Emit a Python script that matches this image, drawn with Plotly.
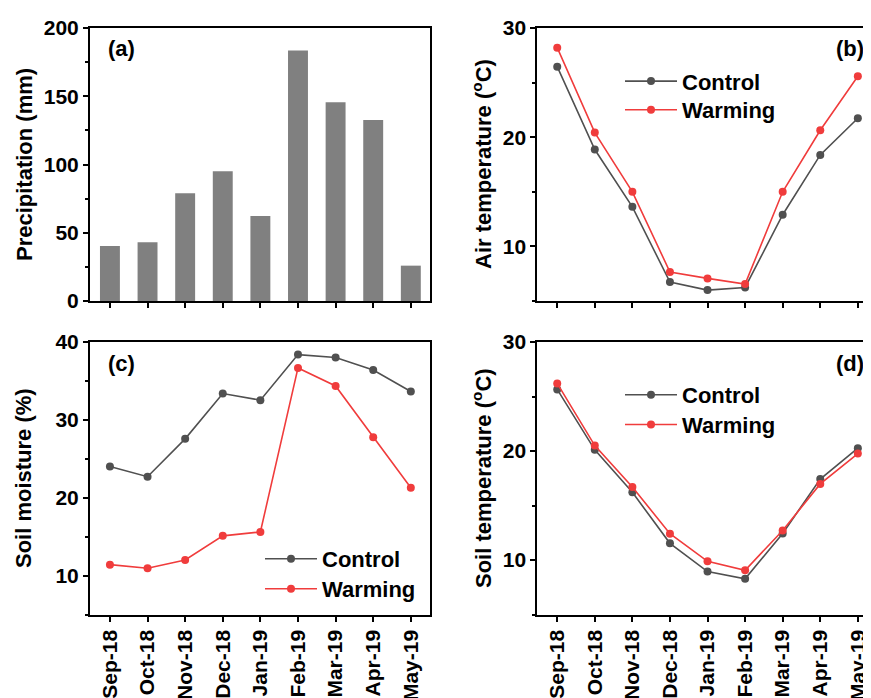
import plotly.graph_objects as go

months = ["Sep-18", "Oct-18", "Nov-18", "Dec-18", "Jan-19", "Feb-19", "Mar-19", "Apr-19", "May-19"]
precip = [40.3, 43.0, 79.0, 95.0, 62.3, 183.6, 145.6, 132.6, 25.9]
air_control = [26.46, 18.87, 13.62, 6.73, 6.0, 6.24, 12.9, 18.38, 21.74]
air_warming = [28.2, 20.42, 15.0, 7.65, 7.07, 6.55, 15.0, 20.64, 25.58]
sm_control = [24.0, 22.7, 27.56, 33.38, 32.53, 38.38, 38.0, 36.41, 33.64]
sm_warming = [11.4, 10.94, 12.0, 15.1, 15.6, 36.67, 34.36, 27.78, 21.28]
st_control = [25.65, 20.11, 16.21, 11.53, 8.94, 8.27, 12.44, 17.43, 20.26]
st_warming = [26.2, 20.5, 16.7, 12.41, 9.88, 9.06, 12.71, 16.98, 19.77]

W, H = 871, 698
OFF = 8  # page body margin
FONT = "Liberation Sans, Arial, sans-serif"
C_CTRL = "#505050"
C_WARM = "#f03c3c"


def fx(x):
    return (x - OFF) / W


def fy(y):
    return 1 - (y - OFF) / H


fig = go.Figure()

fig.add_trace(go.Bar(x=months, y=precip, marker=dict(color="#808080", line=dict(width=0)),
                     width=0.53, xaxis="x", yaxis="y", showlegend=False))


def add_pair(ctrl, warm, xa, ya, leg_c, leg_w):
    fig.add_trace(go.Scatter(x=months, y=ctrl, mode="lines+markers", name="Control",
                             line=dict(color=C_CTRL, width=1.6), marker=dict(size=8, color=C_CTRL),
                             xaxis=xa, yaxis=ya, legend=leg_c))
    fig.add_trace(go.Scatter(x=months, y=warm, mode="lines+markers", name="Warming",
                             line=dict(color=C_WARM, width=1.6), marker=dict(size=8, color=C_WARM),
                             xaxis=xa, yaxis=ya, legend=leg_w))


add_pair(air_control, air_warming, "x2", "y2", "legend", "legend2")
add_pair(sm_control, sm_warming, "x3", "y3", "legend3", "legend4")
add_pair(st_control, st_warming, "x4", "y4", "legend5", "legend6")

tickfont = dict(family=FONT, size=21, color="black", weight="bold")

left_dom = [fx(90), fx(430)]
right_dom = [fx(537.3), fx(877)]
top_dom = [fy(301), fy(28)]
bot_dom = [fy(614.5), fy(342)]


def xax(dom, anchor, labels, mirror):
    return dict(domain=dom, anchor=anchor, type="category", categoryarray=months,
                range=[-0.53, 8.51], showline=True, linecolor="black", linewidth=2, mirror=mirror,
                ticks="outside", ticklen=5, tickwidth=1.5, tickcolor="black",
                showticklabels=labels, tickangle=-90, tickfont=tickfont,
                showgrid=False, zeroline=False, automargin=False)


def yax(dom, anchor, rng, dtick, mirror):
    return dict(domain=dom, anchor=anchor, range=rng, dtick=dtick, tick0=0,
                showline=True, linecolor="black", linewidth=2, mirror=mirror,
                ticks="outside", ticklen=5, tickwidth=1.5, tickcolor="black",
                minor=dict(ticks="outside", ticklen=3, tickwidth=1.5, tickcolor="black", dtick=dtick / 2),
                tickfont=tickfont, showgrid=False, zeroline=False, automargin=False)


legfont = dict(family=FONT, size=22, color="black", weight="bold")


def legend(text_x, center_y):
    return dict(x=fx(text_x - 62), y=fy(center_y - 22), xanchor="left", yanchor="top", font=legfont,
                bgcolor="rgba(0,0,0,0)", borderwidth=0, tracegroupgap=0, itemwidth=52)


annots = []
for txt, x, y, anc in [("(a)", 106, 49, "left"), ("(b)", 866, 49, "right"),
                       ("(c)", 106, 363, "left"), ("(d)", 866, 363, "right")]:
    annots.append(dict(text=txt, x=fx(x), y=fy(y), xref="paper", yref="paper",
                       xanchor=anc, yanchor="middle", showarrow=False,
                       font=dict(family=FONT, size=22, color="black", weight="bold")))

for txt, x, y in [("Precipitation (mm)", 24, 165), ("Air temperature (<sup>o</sup>C)", 482, 164),
                  ("Soil moisture (%)", 23, 478), ("Soil temperature (<sup>o</sup>C)", 482, 478)]:
    annots.append(dict(text=txt, x=fx(x), y=fy(y), xref="paper", yref="paper",
                       xanchor="center", yanchor="middle", showarrow=False, textangle=-90,
                       font=dict(family=FONT, size=22, color="black", weight="bold")))

fig.update_layout(
    width=W, height=H, margin=dict(l=0, r=0, t=0, b=0, autoexpand=False),
    paper_bgcolor="white", plot_bgcolor="white",
    font=dict(family=FONT, size=21, color="black", weight="bold"),
    xaxis=xax(left_dom, "y", False, True),
    yaxis=yax(top_dom, "x", [0, 200], 50, True),
    xaxis2=xax(right_dom, "y2", False, True),
    yaxis2=yax(top_dom, "x2", [5, 30], 10, False),
    xaxis3=xax(left_dom, "y3", True, True),
    yaxis3=yax(bot_dom, "x3", [5, 40], 10, True),
    xaxis4=xax(right_dom, "y4", True, True),
    yaxis4=yax(bot_dom, "x4", [5, 30], 10, False),
    legend=legend(682, 82.3),
    legend2=legend(682, 111),
    legend3=legend(322, 560),
    legend4=legend(322, 590),
    legend5=legend(682, 396),
    legend6=legend(682, 425.7),
    annotations=annots,
)

fig.write_html("out.html")
